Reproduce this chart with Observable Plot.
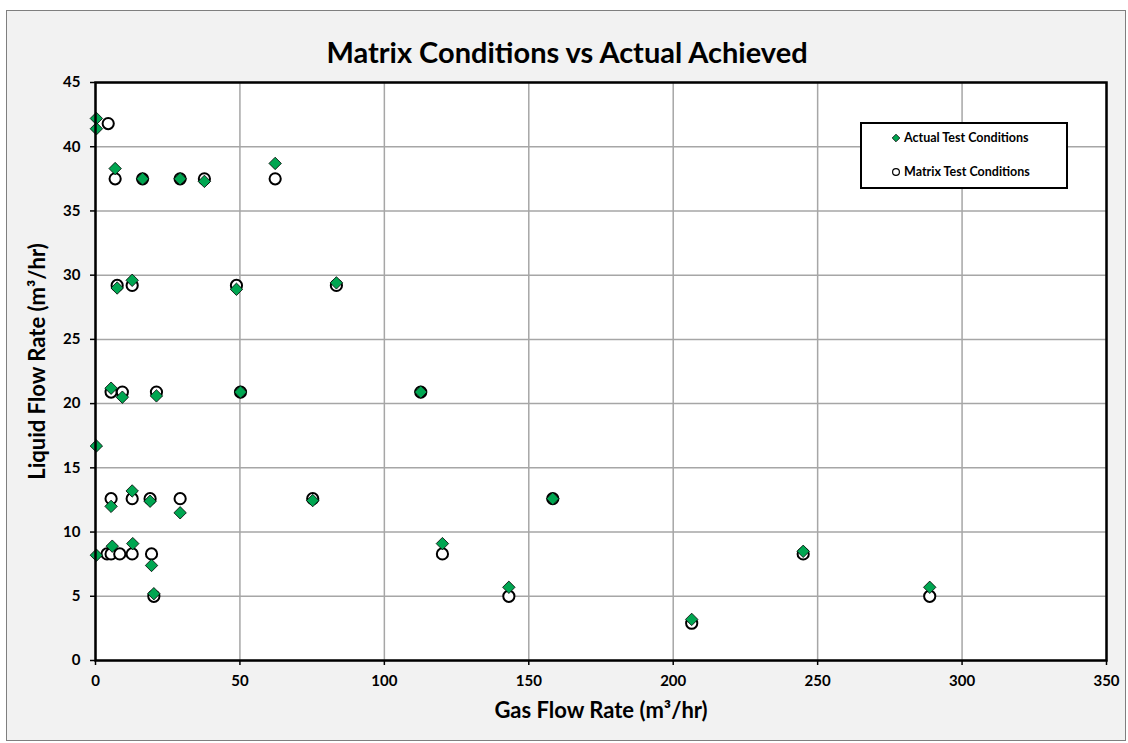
<!DOCTYPE html>
<html>
<head>
<meta charset="utf-8">
<script src="https://cdn.jsdelivr.net/npm/d3@7"></script>
<script src="https://cdn.jsdelivr.net/npm/@observablehq/plot@0.6"></script>
<style>
  html, body { margin: 0; padding: 0; background: #ffffff; }
  #wrap { position: relative; width: 1128px; height: 743px; overflow: hidden; font-family: Lato, "Open Sans", sans-serif; }
  #bg { position: absolute; left: 6px; top: 10px; width: 1118px; height: 729px; background: #f2f2f2; border: 1px solid #7f7f7f; }
  #chart { position: absolute; left: 0; top: 0; }
  #legend { position: absolute; left: 860px; top: 122px; width: 208px; height: 67px; box-sizing: border-box;
            background: #fff; border: 2px solid #000; font-weight: bold; font-size: 12.5px; color: #000; }
  .item { position: absolute; left: 29px; display: flex; align-items: center; white-space: nowrap; }
  .item svg { margin-right: 3px; }
</style>
</head>
<body>
<div id="wrap">
  <div id="bg"></div>
  <div id="chart"></div>
  <div id="legend">
    <div class="item" style="top:6px"><svg width="10" height="10" viewBox="-5 -5 10 10"><path d="M0,-3.8L3.8,0L0,3.8L-3.8,0Z" fill="#00a651" stroke="#000" stroke-width="0.8"/></svg><span id="lg1"></span></div>
    <div class="item" style="top:40px"><svg width="10" height="10" viewBox="-5 -5 10 10"><circle r="3.4" fill="#fff" stroke="#000" stroke-width="1.2"/></svg><span id="lg2"></span></div>
  </div>
</div>
<script>
// ---- data ----
const title = "Matrix Conditions vs Actual Achieved";
const xTitle = "Gas Flow Rate (m³/hr)";
const yTitle = "Liquid Flow Rate (m³/hr)";
const seriesNames = ["Actual Test Conditions", "Matrix Test Conditions"];
const xTicks = [0, 50, 100, 150, 200, 250, 300, 350];
const yTicks = [0, 5, 10, 15, 20, 25, 30, 35, 40, 45];

const matrixGas = [4.4, 6.8, 16.3, 29.3, 37.7, 62.2, 7.5, 12.7, 48.8, 83.4, 5.4, 9.3, 21.1, 50.2, 112.6,
  5.4, 12.7, 18.9, 29.3, 75.2, 158.3, 4.0, 5.4, 8.4, 12.7, 19.4, 120.1, 245.0, 20.2, 143.1, 288.8, 206.4];
const matrixLiquid = [41.8, 37.5, 37.5, 37.5, 37.5, 37.5, 29.2, 29.2, 29.2, 29.2, 20.9, 20.9, 20.9, 20.9, 20.9,
  12.6, 12.6, 12.6, 12.6, 12.6, 12.6, 8.3, 8.3, 8.3, 8.3, 8.3, 8.3, 8.3, 5.0, 5.0, 5.0, 2.9];

const actualGas = [0.3, 0.3, 6.8, 16.3, 29.3, 37.7, 62.2, 7.5, 12.7, 48.8, 83.4, 5.4, 9.3, 21.1, 50.2, 112.6,
  0.3, 5.4, 12.7, 18.9, 29.3, 75.2, 158.3, 0.3, 5.8, 12.9, 19.4, 20.2, 120.1, 143.1, 206.4, 245.0, 288.8];
const actualLiquid = [42.2, 41.4, 38.3, 37.5, 37.5, 37.3, 38.7, 29.0, 29.6, 28.9, 29.4, 21.2, 20.5, 20.6, 20.9, 20.9,
  16.7, 12.0, 13.2, 12.4, 11.5, 12.45, 12.6, 8.2, 8.9, 9.1, 7.4, 5.2, 9.1, 5.7, 3.2, 8.5, 5.7];

// ---- build ----
const matrix = matrixGas.map((g, i) => ({gas: g, liquid: matrixLiquid[i]}));
const actual = actualGas.map((g, i) => ({gas: g, liquid: actualLiquid[i]}));
document.getElementById("lg1").textContent = seriesNames[0];
document.getElementById("lg2").textContent = seriesNames[1];

const plot = Plot.plot({
  width: 1128,
  height: 743,
  marginLeft: 95,
  marginRight: 22,
  marginTop: 82,
  marginBottom: 83,
  style: {fontFamily: "Lato, 'Open Sans', sans-serif", fontSize: "15px", fontWeight: "bold", color: "#000", background: "transparent", overflow: "visible"},
  x: {domain: [0, 350]},
  y: {domain: [0, 45]},
  marks: [
    Plot.frame({fill: "#ffffff"}),
    Plot.gridX(xTicks, {stroke: "#a6a6a6", strokeOpacity: 1, strokeWidth: 1.5}),
    Plot.gridY(yTicks, {stroke: "#a6a6a6", strokeOpacity: 1, strokeWidth: 1.5}),
    Plot.axisX(xTicks, {tickSize: 5, tickPadding: 10, label: null, strokeWidth: 1.5, fontWeight: "bold", fontSize: 15}),
    Plot.axisY(yTicks, {tickSize: 5, tickPadding: 10, label: null, strokeWidth: 1.5, fontWeight: "bold", fontSize: 15}),
    Plot.dot(matrix, {x: "gas", y: "liquid", r: 5.6, fill: "#ffffff", stroke: "#000000", strokeWidth: 2}),
    Plot.dot(actual, {x: "gas", y: "liquid", symbol: "diamond2", r: 5.6, fill: "#00a651", stroke: "#000000", strokeWidth: 0.8}),
    Plot.frame({stroke: "#000000", strokeWidth: 2.5}),
    Plot.text([title], {text: d => d, frameAnchor: "top", dy: -40, dx: -34, fontSize: 29, fontWeight: "bold"}),
    Plot.text([xTitle], {text: d => d, frameAnchor: "bottom", dy: 57, fontSize: 22, fontWeight: "bold"}),
    Plot.text([yTitle], {text: d => d, frameAnchor: "left", textAnchor: "middle", dx: -58, dy: -10, rotate: -90, fontSize: 22, fontWeight: "bold"})
  ]
});
document.getElementById("chart").appendChild(plot);
</script>
</body>
</html>
